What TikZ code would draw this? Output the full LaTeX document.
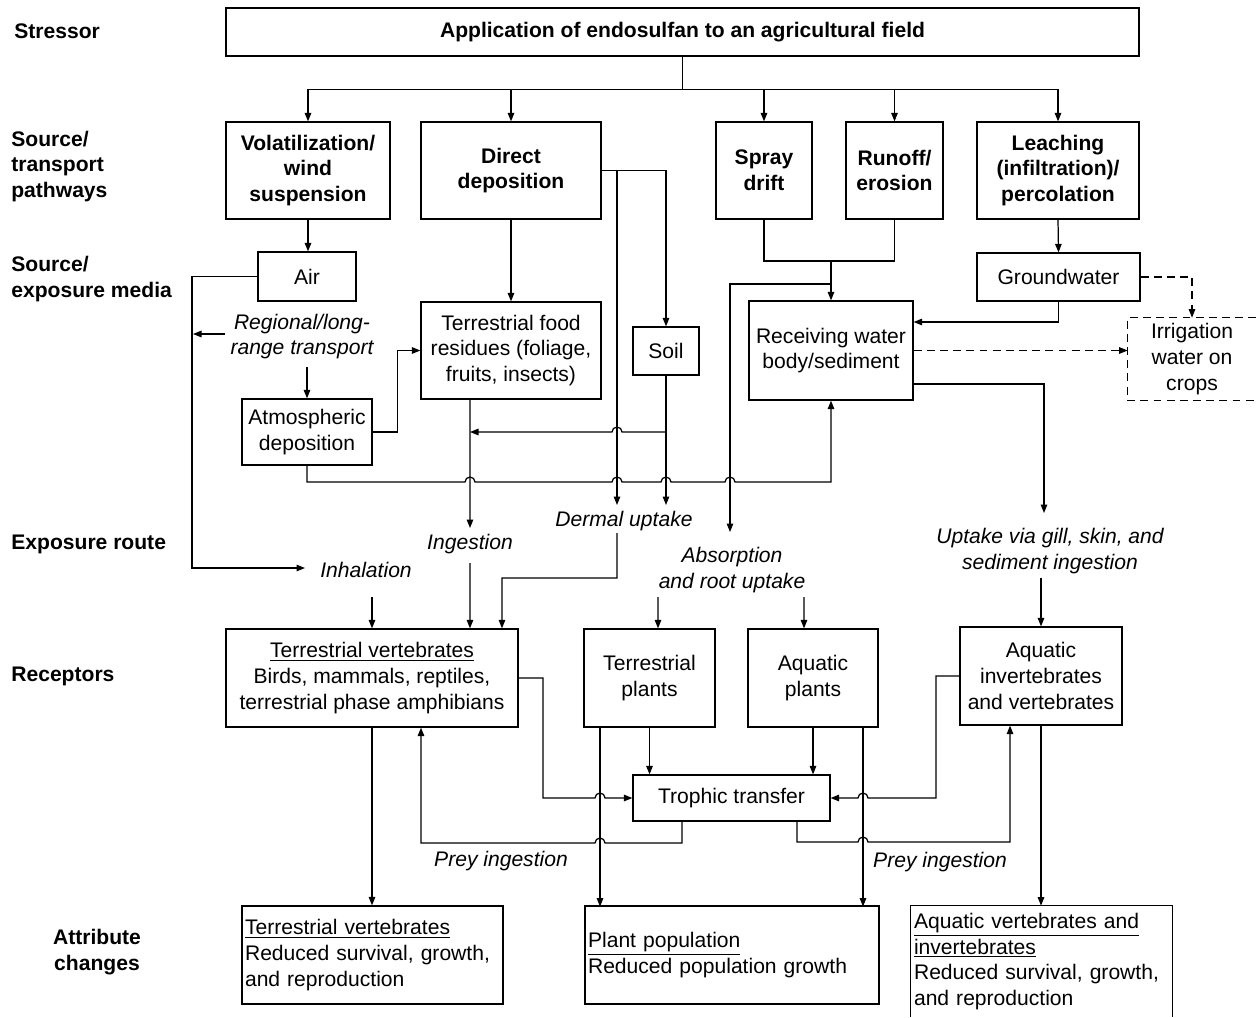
\documentclass[tikz,border=0pt]{standalone}
\usepackage{fontspec}
\setmainfont{Liberation Sans}
\usetikzlibrary{arrows.meta}
\begin{document}
\begin{tikzpicture}[x=0.02cm,y=-0.02cm,
  every node/.style={font=\fontsize{12}{14.7}\selectfont},
  box/.style={draw, line width=0.7pt, inner sep=0pt, align=center},
  bbox/.style={box, font=\fontsize{12}{14.7}\selectfont\bfseries},
  lab/.style={inner sep=0pt, align=center, font=\fontsize{12}{14.7}\selectfont\itshape},
  side/.style={inner sep=0pt, align=left, anchor=west, font=\fontsize{12}{14.7}\selectfont\bfseries},
  lbox/.style={draw, line width=0.7pt, inner xsep=0.06cm, inner ysep=0pt, align=left},
  arr/.style={-{Triangle[length=0.17cm,width=0.13cm]}, line width=0.7pt},
  ln/.style={line width=0.7pt},
  dsh/.style={dash pattern=on 4.5pt off 3pt},
]
\useasboundingbox (0,0) rectangle (1256,1017);

% side labels
\node[side] (s1) at (14,31) {Stressor};
\node[side] (s2) at (11,166.5) {Source/\\transport\\pathways};
\node[side] (s3) at (11,279) {Source/\\exposure media};
\node[side] (s4) at (11,544) {Exposure route};
\node[side] (s5) at (11,676) {Receptors};
\node[side, anchor=center, align=center] (s6) at (97,952) {Attribute\\changes};

% stressor
\node[bbox, minimum width=18.26cm, minimum height=0.96cm] (app) at (682.5,32) {Application of endosulfan to an agricultural field};

% source/transport pathways
\node[bbox, minimum width=3.28cm, minimum height=1.94cm] (vol) at (308,170.5) {Volatilization/\\wind\\suspension};
\node[bbox, minimum width=3.6cm, minimum height=1.94cm] (dd) at (511,170.5) {Direct\\deposition};
\node[bbox, minimum width=1.92cm, minimum height=1.94cm] (spray) at (764,170.5) {Spray\\drift};
\node[bbox, minimum width=1.94cm, minimum height=1.94cm] (runoff) at (894.5,170.5) {Runoff/\\erosion};
\node[bbox, minimum width=3.24cm, minimum height=1.94cm] (leach) at (1058,170.5) {Leaching\\(infiltration)/\\percolation};

% media
\node[box, minimum width=1.96cm, minimum height=0.98cm] (air) at (307,276.5) {Air};
\node[box, minimum width=3.6cm, minimum height=1.94cm] (tfr) at (511,350.5) {Terrestrial food\\residues (foliage,\\fruits, insects)};
\node[box, minimum width=1.32cm, minimum height=0.96cm] (soil) at (666,351) {Soil};
\node[box, minimum width=2.6cm, minimum height=1.32cm] (atm) at (307,432) {Atmospheric\\deposition};
\node[box, minimum width=3.28cm, minimum height=1.98cm] (rw) at (831,350.5) {Receiving water\\body/sediment};
\node[box, minimum width=3.26cm, minimum height=0.96cm] (gw) at (1058.5,277) {Groundwater};
\node[inner sep=0pt, align=center, minimum width=2.56cm, minimum height=1.64cm] (irr) at (1192,359) {Irrigation\\water on\\crops};
\draw[ln,dsh] (irr.north east) -- (irr.north west) -- (irr.south west) -- (irr.south east);

% italic labels
\node[lab] (reg) at (302,336.5) {Regional/long-\\range transport};
\node[lab] (inh) at (366,570) {Inhalation};
\node[lab] (ing) at (470,544) {Ingestion};
\node[lab] (derm) at (624,521) {Dermal uptake};
\node[lab] (abs) at (732,570) {Absorption\\and root uptake};
\node[lab] (gill) at (1050,551) {Uptake via gill, skin, and\\sediment ingestion};
\node[lab] (prey1) at (501,861) {Prey ingestion};
\node[lab] (prey2) at (940,862) {Prey ingestion};

% receptors
\node[box, minimum width=5.84cm, minimum height=1.96cm] (tv) at (372,678) {\underline{Terrestrial vertebrates}\\Birds, mammals, reptiles,\\terrestrial phase amphibians};
\node[box, minimum width=2.62cm, minimum height=1.96cm] (tp) at (649.5,678) {Terrestrial\\plants};
\node[box, minimum width=2.6cm, minimum height=1.96cm] (ap) at (813,678) {Aquatic\\plants};
\node[box, minimum width=3.24cm, minimum height=1.96cm] (ai) at (1041,676) {Aquatic\\invertebrates\\and vertebrates};
\node[box, minimum width=3.94cm, minimum height=0.92cm] (tt) at (731.5,798) {Trophic transfer};

% attribute changes
\node[lbox, text width=5.10cm, minimum height=1.96cm] (tva) at (372.5,955) {\underline{Terrestrial vertebrates}\\Reduced survival, growth,\\and reproduction};
\node[lbox, text width=5.76cm, minimum height=1.96cm] (pp) at (732,955) {\underline{Plant population}\\Reduced population growth};
\node[inner xsep=0.06cm, inner ysep=0pt, align=left, text width=5.10cm, minimum height=2.22cm] (aa) at (1041.5,961.5) {\underline{Aquatic vertebrates and}\\\underline{invertebrates}\\Reduced survival, growth,\\and reproduction};
\draw[ln] (aa.south west) -- (aa.north west) -- (aa.north east) -- (aa.south east);

% stressor -> pathways
\draw[ln] (app.south) -- ++(0,33);
\foreach \n in {vol,dd,spray,runoff,leach}
  \draw[arr] (app.south) ++(0,33) -| (\n.north);

% pathways -> media
\draw[arr] (vol.south) -- (vol.south |- air.north);
\draw[arr] (dd.south) -- (tfr.north);
\draw[arr] (dd.east) -| (soil.north);
\draw[arr] (617,170.5) -- (617,505);
\draw[ln] (spray.south) -- (764,261) -- (894.5,261) -- (runoff.south);
\draw[arr] (831,261) -- (rw.north);
\draw[arr] (831,284) -- (730,284) -- (730,532);
\draw[arr] (leach.south) -- (gw.north);
\draw[arr] (gw.south) |- ([yshift=0.57cm]rw.east);
\draw[arr,dsh] (gw.east) -| (irr.north);
\draw[arr,dsh] (rw.east) -- (rw.east -| irr.west);
\draw[arr] ([yshift=-0.67cm]rw.east) -| (1044,513);

% air and atmosphere
\draw[arr] (air.west) -| (192,568) -- (305,568);
\draw[arr] (225,334) -- (193,334);
\draw[arr] (307,367) -- (atm.north);
\draw[arr] (atm.east) -- ++(25,0) |- (tfr.west);
\draw[arr] (atm.south) |- (465,482) arc[start angle=180,end angle=0,radius=0.1cm]
  -- (612,482) arc[start angle=180,end angle=0,radius=0.1cm]
  -- (661,482) arc[start angle=180,end angle=0,radius=0.1cm]
  -- (725,482) arc[start angle=180,end angle=0,radius=0.1cm]
  -- (831,482) -- (rw.south);

% soil and food residues
\draw[arr] (soil.south) -- (666,505);
\draw[arr] (666,432) -- (622,432) arc[start angle=0,end angle=180,radius=0.1cm] -- (470,432);
\draw[arr] ([xshift=-0.82cm]tfr.south) -- (470,528);

% exposure routes -> receptors
\draw[arr] (470,563) -- ([xshift=1.96cm]tv.north);
\draw[arr] (372,597) -- (tv.north);
\draw[arr] (617,533) -- (617,578) -- (502,578) -- ([xshift=2.6cm]tv.north);
\draw[arr] (658,597) -- ([xshift=0.17cm]tp.north);
\draw[arr] (804,597) -- ([xshift=-0.18cm]ap.north);
\draw[arr] (1041,578) -- (ai.north);

% trophic transfer
\draw[arr] (tp.south) -- (tp.south |- tt.north);
\draw[arr] (ap.south) -- (ap.south |- tt.north);
\draw[arr] (tv.east) -- (543,678) -- (543,798) -- (595,798) arc[start angle=180,end angle=0,radius=0.1cm] -- (tt.west);
\draw[arr] (ai.west) -- (936,676) -- (936,798) -- (868,798) arc[start angle=0,end angle=180,radius=0.1cm] -- (tt.east);
\draw[arr] ([xshift=-0.99cm]tt.south) -- (682,843) -- (605,843) arc[start angle=0,end angle=180,radius=0.1cm] -- (421,843) -- ([xshift=0.98cm]tv.south);
\draw[arr] ([xshift=1.31cm]tt.south) -- (797,842) -- (858,842) arc[start angle=180,end angle=0,radius=0.1cm] -- (1010,842) -- ([xshift=-0.62cm]ai.south);

% receptors -> attribute changes
\draw[arr] (tv.south) -- (tv.south |- tva.north);
\draw[arr] ([xshift=-0.99cm]tp.south) -- ++(0,179);
\draw[arr] ([xshift=1cm]ap.south) -- ++(0,179);
\draw[arr] (ai.south) -- (ai.south |- aa.north);
\end{tikzpicture}
\end{document}
